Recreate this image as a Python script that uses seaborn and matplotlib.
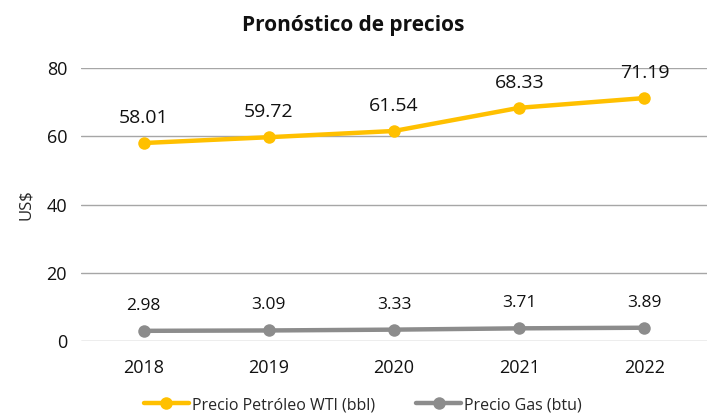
import matplotlib
matplotlib.use("Agg")
import matplotlib.pyplot as plt
import seaborn as sns
import pandas as pd

years = ["2018", "2019", "2020", "2021", "2022"]
wti = [58.01, 59.72, 61.54, 68.33, 71.19]
gas = [2.98, 3.09, 3.33, 3.71, 3.89]
series_names = ["Precio Petróleo WTI (bbl)", "Precio Gas (btu)"]
colors = ["#FFC000", "#8C8C8C"]

df = pd.DataFrame({
    "Año": years * 2,
    "Valor": wti + gas,
    "Serie": [series_names[0]] * len(years) + [series_names[1]] * len(years),
})

sns.set_style("white")
plt.rcParams["font.family"] = ["Open Sans", "DejaVu Sans"]

fig = plt.figure(figsize=(7.07, 4.15), dpi=100)
ax = fig.add_axes([81 / 707, 1 - 341 / 415, 1 - 81 / 707, (341 - 68) / 415])

sns.lineplot(data=df, x="Año", y="Valor", hue="Serie", palette=colors,
             marker="o", markersize=9, linewidth=3.2, markeredgewidth=0,
             ax=ax, legend=True, sort=False)

ax.set_xlim(-0.5, 4.5)
ax.set_ylim(0, 80)
ax.set_yticks([0, 20, 40, 60, 80])
ax.yaxis.grid(True, color="#A6A6A6", linewidth=1)
ax.xaxis.grid(False)
for s in ax.spines.values():
    s.set_visible(False)
ax.tick_params(axis="both", length=0, labelsize=13, colors="#111111")
ax.tick_params(axis="x", pad=13)
ax.tick_params(axis="y", pad=10)
ax.set_xlabel("")
ax.set_ylabel("US$", fontsize=12, labelpad=9)

for i, v in enumerate(wti):
    ax.annotate(f"{v:.2f}", (i, v), xytext=(0, 18), textcoords="offset points",
                ha="center", va="center", fontsize=14, color="#111111")
for i, v in enumerate(gas):
    ax.annotate(f"{v:.2f}", (i, v), xytext=(0, 18), textcoords="offset points",
                ha="center", va="center", fontsize=12.5, color="#111111")

fig.text(0.5, 1 - 25 / 415, "Pronóstico de precios", ha="center", va="center",
         fontsize=15, fontweight="bold", color="#111111")

handles, labels = ax.get_legend_handles_labels()
ax.legend(handles, labels, loc="center", bbox_to_anchor=(0.5 - 35 / 707, (341 - 405) / 273),
          ncol=2, frameon=False, fontsize=11.5, handlelength=2.8, columnspacing=2.6,
          handletextpad=0.2)

fig.savefig("out.png", dpi=100)
